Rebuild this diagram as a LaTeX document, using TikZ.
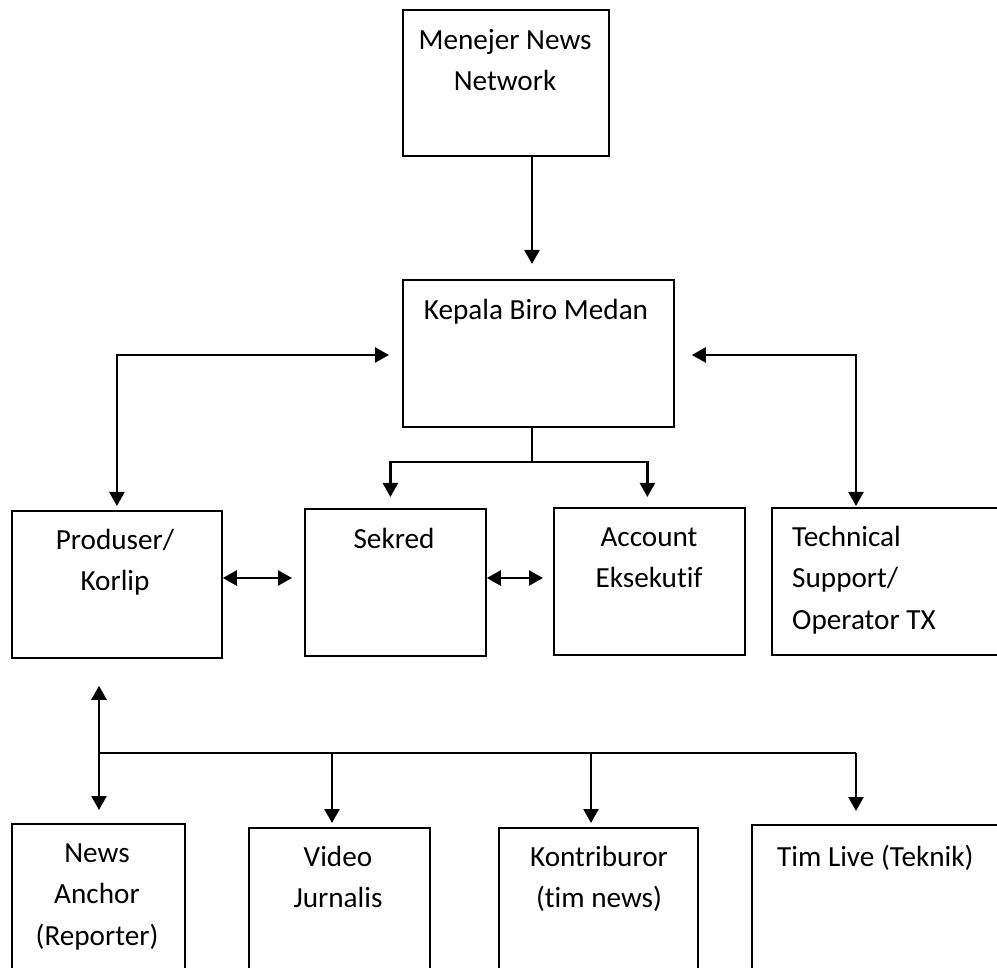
\documentclass[tikz,border=0pt]{standalone}
\usepackage{fontspec}
\setmainfont[Ligatures=NoCommon]{Carlito}
\usetikzlibrary{arrows.meta}
\newcommand{\fnt}{\fontsize{29.2}{41.5}\selectfont}
\begin{document}
\begin{tikzpicture}[x=1pt,y=-1pt,
  box/.style={draw, line width=1.8pt, anchor=north west, inner sep=0pt},
  txt/.style={anchor=north, inner sep=0pt, align=center, font=\fnt},
  txtl/.style={anchor=north west, inner sep=0pt, align=left, font=\fnt},
  conn/.style={line width=2.3pt},
  arr/.style={conn, -{Triangle[length=14pt,width=15pt]}},
  dbl/.style={conn, {Triangle[length=14pt,width=15pt]}-{Triangle[length=14pt,width=15pt]}}]
\useasboundingbox (0,0) rectangle (997,968);
\clip (0,0) rectangle (997,968);
\fill[white] (0,0) rectangle (997,968);
% boxes
\node[box, minimum width=206pt, minimum height=146pt] (menejer) at (402,9) {};
\node[box, minimum width=271pt, minimum height=147pt] (kepala) at (402,279) {};
\node[box, minimum width=210pt, minimum height=147pt] (produser) at (11,510) {};
\node[box, minimum width=181pt, minimum height=147pt] (sekred) at (304,508) {};
\node[box, minimum width=191pt, minimum height=147pt] (account) at (553,507) {};
\node[box, minimum width=240pt, minimum height=147pt] (tech) at (771,507) {};
\node[box, minimum width=173pt, minimum height=200pt] (news) at (11,823) {};
\node[box, minimum width=181pt, minimum height=200pt] (video) at (248,827) {};
\node[box, minimum width=199pt, minimum height=200pt] (kontri) at (498,827) {};
\node[box, minimum width=260pt, minimum height=200pt] (timlive) at (751,824) {};
% texts
\node[txt] (tmenejer) at (505,20) {\strut Menejer News\\Network};
\node[txt] (tkepala) at (536,290) {\strut Kepala Biro Medan};
\node[txt] (tprod) at (115,520) {\strut Produser/\\Korlip};
\node[txt] (tsekred) at (394,519) {\strut Sekred};
\node[txt] (taccount) at (649,517) {\strut Account\\Eksekutif};
\node[txtl] (ttech) at (792,517) {\strut Technical\\Support/\\Operator TX};
\node[txt] (tnews) at (97,833) {\strut News\\Anchor\\(Reporter)};
\node[txt] (tvideo) at (338,837) {\strut Video\\Jurnalis};
\node[txt] (tkontri) at (599,837) {\strut Kontriburor\\(tim news)};
\node[txtl] (ttim) at (777,837) {\strut Tim Live (Teknik)};
% helper coordinates
\coordinate (mx) at (532,0);
\coordinate (br) at (532,462);
\coordinate (tx) at (856,0);
\coordinate (dy) at (0,578);
\coordinate (ky) at (0,355);
\coordinate (b0) at (99,753);
\coordinate (b1) at (332,753);
\coordinate (b2) at (591,753);
\coordinate (b3) at (856,753);
% connectors
\draw[arr, shorten >=15pt] (menejer.south -| mx) -- (kepala.north -| mx);
\draw[dbl, shorten <=13pt, shorten >=4pt] (kepala.west |- ky) -| (produser.north);
\draw[dbl, shorten <=17pt, shorten >=1pt] (kepala.east |- ky) -| (tech.north -| tx);
\draw[conn] (kepala.south -| br) -- (br);
\draw[arr, shorten >=11pt] (br) -| ([xshift=-5pt]sekred.north);
\draw[arr, shorten >=10pt] (br) -| ([xshift=-2pt]account.north);
\draw[dbl, shorten >=12pt] (produser.east |- dy) -- (sekred.west |- dy);
\draw[dbl, shorten >=10pt] (sekred.east |- dy) -- (account.west |- dy);
\draw[dbl, shorten <=27pt, shorten >=13pt] (produser.south -| b0) -- (news.north -| b0);
\draw[conn] (b0) -- (b3);
\draw[arr, shorten >=4pt] (b1) -- (video.north -| b1);
\draw[arr, shorten >=4pt] (b2) -- (kontri.north -| b2);
\draw[arr, shorten >=13pt] (b3) -- (timlive.north -| b3);
\end{tikzpicture}
\end{document}
